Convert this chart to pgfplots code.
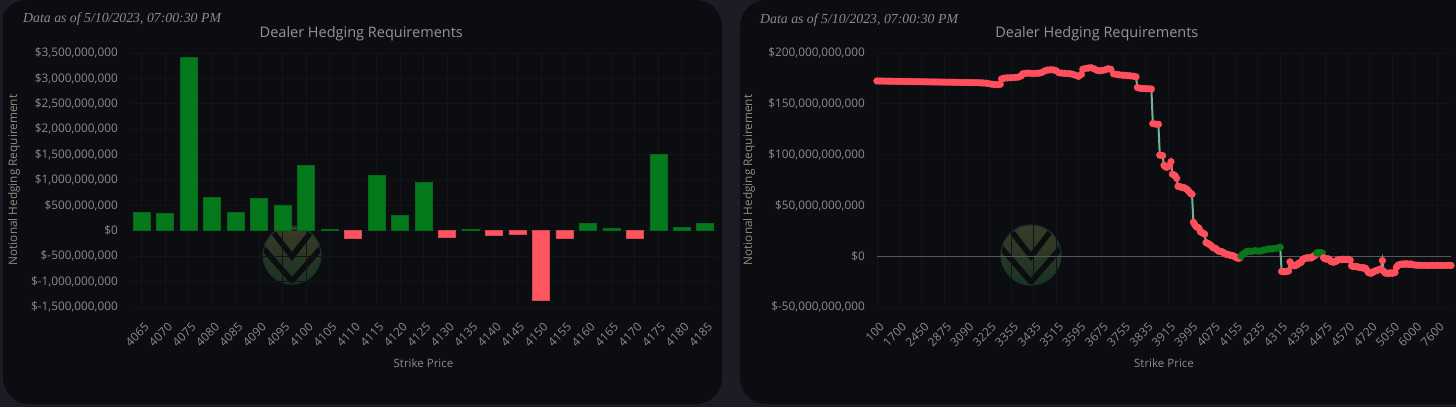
\documentclass[border=0pt]{standalone}
\usepackage{pgfplots}
\pgfplotsset{compat=1.18}
\usepackage{pgfplotstable}
\usepackage{fontspec}
\setmainfont{Open Sans}
\newfontfamily\datefont{Liberation Serif}
\definecolor{outerbg}{HTML}{1B1C25}
\definecolor{panelbg}{HTML}{0C0D10}
\definecolor{gridc}{HTML}{131418}
\definecolor{txt}{HTML}{8C8C8C}
\definecolor{ttl}{HTML}{959595}
\definecolor{barg}{HTML}{057A1C}
\definecolor{barr}{HTML}{FF5561}
\definecolor{ptred}{HTML}{FF4F5C}
\definecolor{ptgreen}{HTML}{0A761A}
\definecolor{lineg}{HTML}{6DB595}
\definecolor{zeroc}{HTML}{55575C}
\definecolor{logotop}{HTML}{3A3B26}
\definecolor{logobot}{HTML}{1A3323}
\definecolor{logoring}{HTML}{15342A}

\pgfplotstableread{
idx val
0 0.37
1 0.35
2 3.42
3 0.65
4 0.36
5 0.63
6 0.51
7 1.29
8 0.02
10 1.09
11 0.31
12 0.95
14 0.025
19 0.14
20 0.05
22 1.50
23 0.07
24 0.14
}\posbars
\pgfplotstableread{
idx val
9 -0.14
13 -0.12
15 -0.08
16 -0.06
17 -1.36
18 -0.15
21 -0.15
}\negbars

\pgfplotstableread{
idx val c
0 172.5 r
2 172.4 r
4 172.4 r
6 172.3 r
8 172.3 r
10 172.2 r
12 172.2 r
14 172.1 r
16 172.1 r
18 172.0 r
20 172.0 r
22 172.0 r
24 171.9 r
26 171.8 r
28 171.8 r
30 171.8 r
32 171.7 r
34 171.7 r
36 171.6 r
38 171.5 r
40 171.5 r
42 171.5 r
44 171.4 r
46 171.4 r
48 171.3 r
50 171.3 r
52 171.3 r
54 171.2 r
56 171.1 r
58 171.1 r
60 171.0 r
62 171.0 r
64 171.0 r
66 170.9 r
68 170.8 r
70 170.8 r
72 170.8 r
74 170.6 r
76 170.5 r
78 170.3 r
80 169.8 r
82 169.3 r
84 169.0 r
86 168.8 r
88 169.2 r
89 174.5 r
91 175.3 r
93 175.5 r
95 175.6 r
97 175.8 r
99 176.0 r
101 176.3 r
103 177.5 r
104 179.5 r
106 180.0 r
108 180.2 r
110 180.0 r
112 179.8 r
114 180.0 r
116 180.2 r
118 181.0 r
120 182.5 r
122 183.2 r
124 183.5 r
126 183.3 r
128 182.5 r
130 180.5 r
132 180.2 r
134 180.0 r
136 179.8 r
138 179.5 r
140 179.0 r
142 178.0 r
144 177.0 r
146 179.0 r
147 184.0 r
149 184.8 r
151 185.2 r
153 185.5 r
155 184.5 r
157 183.0 r
159 182.5 r
161 182.8 r
163 183.5 r
165 184.5 r
167 184.0 r
169 179.5 r
171 179.0 r
173 178.5 r
175 178.2 r
177 178.0 r
179 177.8 r
181 177.5 r
183 177.2 r
185 176.5 r
186 166.0 r
188 165.2 r
190 165.0 r
192 164.8 r
194 164.8 r
196 164.5 r
197 130.5 r
199 130.0 r
201 129.8 r
202 99.5 r
204 99.0 r
205 89.5 r
206 88.0 r
207 87.5 r
208 88.5 r
209 89.0 r
210 93.0 r
211 80.7 r
212 80.0 r
213 79.0 r
214 76.7 r
215 68.8 r
216 68.5 r
217 68.0 r
218 67.8 r
219 67.5 r
220 67.0 r
221 66.0 r
222 65.0 r
223 63.5 r
224 61.7 r
225 61.0 r
226 33.4 r
227 31.0 r
228 29.0 r
229 28.5 r
230 27.5 r
231 24.0 r
232 23.4 r
233 22.5 r
234 21.7 r
235 13.4 r
236 12.8 r
237 12.0 r
238 11.0 r
239 10.0 r
240 8.4 r
241 8.0 r
242 7.5 r
243 6.0 r
244 5.0 r
245 4.8 r
246 4.5 r
247 4.0 r
248 3.0 r
249 2.2 r
250 1.8 r
251 1.5 r
252 1.2 r
253 0.8 r
254 0.5 r
255 0.0 r
256 -1.0 r
257 -1.6 r
258 -2.0 r
259 -1.8 r
260 0.0 g
261 1.5 g
262 2.5 g
263 3.4 g
264 4.5 g
265 4.8 g
266 5.0 g
268 4.8 g
270 5.5 g
272 5.0 g
274 5.2 g
276 6.0 g
278 6.5 g
280 7.2 g
282 7.0 g
284 7.7 g
286 8.0 g
288 8.8 g
289 -15.0 r
290 -15.2 r
291 -15.3 r
292 -15.0 r
293 -14.8 r
294 -14.5 r
295 -5.6 r
296 -8.0 r
297 -9.0 r
298 -9.5 r
299 -9.0 r
300 -8.5 r
301 -7.0 r
302 -6.7 r
303 -6.0 r
304 -3.4 r
305 -2.5 r
306 -2.0 r
307 -1.7 r
308 -1.7 r
309 -1.5 r
310 -1.7 r
311 -1.0 r
312 0.5 r
313 0.7 r
314 3.2 g
315 3.5 g
316 3.6 g
317 3.5 g
318 3.2 g
319 -1.5 r
320 -2.6 r
321 -2.8 r
322 -2.6 r
323 -3.0 r
324 -5.0 r
325 -5.6 r
326 -5.8 r
327 -5.6 r
328 -5.0 r
329 -3.8 r
330 -3.4 r
331 -3.2 r
332 -3.4 r
333 -3.0 r
334 -3.2 r
335 -3.4 r
336 -3.0 r
337 -3.3 r
338 -4.0 r
339 -9.5 r
340 -10.0 r
341 -10.2 r
342 -10.0 r
343 -10.4 r
344 -10.8 r
345 -11.0 r
346 -11.3 r
347 -11.5 r
348 -11.5 r
349 -12.0 r
350 -14.0 r
351 -16.0 r
352 -16.5 r
353 -16.7 r
354 -16.0 r
355 -15.0 r
356 -14.5 r
357 -14.0 r
358 -13.5 r
359 -13.0 r
360 -12.5 r
361 -4.3 r
362 -15.0 r
363 -16.5 r
364 -16.7 r
365 -16.8 r
366 -16.7 r
367 -16.5 r
368 -16.7 r
369 -16.5 r
370 -16.0 r
371 -11.0 r
372 -9.0 r
373 -8.4 r
374 -8.0 r
375 -7.8 r
376 -8.0 r
377 -7.6 r
378 -7.5 r
379 -7.8 r
380 -8.0 r
381 -7.6 r
382 -8.0 r
383 -8.5 r
385 -8.8 r
387 -9.0 r
389 -9.0 r
391 -9.0 r
393 -9.2 r
395 -9.0 r
397 -9.0 r
399 -9.1 r
401 -9.0 r
403 -9.0 r
405 -9.2 r
407 -9.0 r
409 -9.0 r
410 -9.1 r
}\rightdata

\pgfplotsset{
  dark/.style={
    scale only axis, anchor=south west,
    axis line style={draw=none}, tick style={draw=none},
    grid=major, grid style={gridc, line width=0.8pt},
    ticklabel style={text=txt},
    yticklabel style={font=\fontsize{11.8}{12}\selectfont, anchor=east, inner sep=0pt, xshift=-12pt},
    xticklabel style={font=\fontsize{11.8}{12}\selectfont, xshift=5pt, yshift=-18pt, rotate=45, anchor=east, inner sep=0pt},
    every axis title shift=0pt,
    title style={font=\fontsize{14.5}{15}\selectfont, text=ttl, anchor=center},
    xlabel style={font=\fontsize{11.5}{12}\selectfont, text=txt, at={(axis description cs:0.5,-0.2205)}, anchor=center},
    ylabel style={font=\fontsize{11.8}{12}\selectfont, text=txt, anchor=center},
    xlabel={Strike Price}, ylabel={Notional Hedging Requirement},
    title={Dealer Hedging Requirements},
  }
}

\newcommand{\logo}[3]{%
  \begin{scope}[shift={(#1pt,#2pt)}, x=#3pt, y=#3pt]
    \begin{scope}
      \clip (0,0) circle (1);
      \shade[top color=logotop, bottom color=logobot] (-1,-1) rectangle (1,1);
      \draw[panelbg, line width=5.5pt, line join=miter] (-0.7,0.85) -- (0,-0.05) -- (0.7,0.85);
      \draw[panelbg, line width=5.5pt, line join=miter] (-1.05,0.3) -- (0,-0.9) -- (1.05,0.3);
    \end{scope}
    \draw[logoring, line width=1.2pt] (0,0) circle (1);
  \end{scope}}

\begin{document}
\begin{tikzpicture}
\useasboundingbox (0,0) rectangle (1456pt,407pt);
\fill[outerbg] (0,0) rectangle (1456pt,407pt);
\fill[panelbg, rounded corners=26pt] (3pt,3pt) rectangle (722pt,440pt);
\fill[panelbg, rounded corners=26pt] (740pt,3pt) rectangle (1500pt,440pt);
\fill[panelbg] (3pt,400pt) rectangle (722pt,407pt);
\fill[panelbg] (740pt,400pt) rectangle (1456pt,407pt);
\fill[outerbg] (0pt,407pt) -- (0pt,381pt) arc[start angle=180, end angle=90, radius=26pt] -- cycle;
\fill[outerbg] (722pt,407pt) -- (722pt,381pt) arc[start angle=0, end angle=90, radius=26pt] -- cycle;
\fill[outerbg] (740pt,407pt) -- (740pt,381pt) arc[start angle=180, end angle=90, radius=26pt] -- cycle;

\logo{292}{152}{29}
\logo{1031}{152}{30}

\node[anchor=west, text=txt, inner sep=0pt] at (23pt,387.5pt) {\datefont\itshape\fontsize{13.8}{14}\selectfont Data as of 5/10/2023, 07:00:30 PM};
\node[anchor=west, text=txt, inner sep=0pt] at (760pt,387pt) {\datefont\itshape\fontsize{13.8}{14}\selectfont Data as of 5/10/2023, 07:00:30 PM};

\begin{axis}[dark,
  at={(130pt,100pt)}, width=587pt, height=254pt,
  xmin=-0.5, xmax=24.5, ymin=-1.5, ymax=3.5,
  xtick={0,...,24},
  xticklabels={4065,4070,4075,4080,4085,4090,4095,4100,4105,4110,4115,4120,4125,4130,4135,4140,4145,4150,4155,4160,4165,4170,4175,4180,4185},
  ytick={-1.5,-1,-0.5,0,0.5,1,1.5,2,2.5,3,3.5},
  yticklabels={{\$-1,500,000,000},{\$-1,000,000,000},{\$-500,000,000},{\$0},{\$500,000,000},{\$1,000,000,000},{\$1,500,000,000},{\$2,000,000,000},{\$2,500,000,000},{\$3,000,000,000},{\$3,500,000,000}},
  title style={at={(axis description cs:0.394,1.0748)}},
  ylabel style={at={(axis description cs:-0.1976,0.5)}},
]
\addplot[ybar, bar shift=0pt, bar width=17pt, fill=barg, draw=barg!85!black, line width=0.6pt] table[x=idx,y=val] {\posbars};
\addplot[ybar, bar shift=0pt, bar width=17pt, fill=barr, draw=barr!85!black, line width=0.6pt] table[x=idx,y=val] {\negbars};
\end{axis}

\begin{axis}[dark,
  at={(877pt,100pt)}, width=574pt, height=254pt,
  xmin=0, xmax=410, ymin=-50, ymax=200,
  xtick={0,16,...,400},
  xticklabels={100,1700,2450,2875,3090,3225,3355,3435,3515,3595,3675,3755,3835,3915,3995,4075,4155,4235,4315,4395,4475,4570,4720,5050,6000,7600},
  ytick={-50,0,50,100,150,200},
  yticklabels={{\$-50,000,000,000},{\$0},{\$50,000,000,000},{\$100,000,000,000},{\$150,000,000,000},{\$200,000,000,000}},
  extra y ticks={0}, extra y tick labels={},
  extra y tick style={grid style={zeroc, line width=1.1pt}},
  title style={at={(axis description cs:0.383,1.0748)}},
  ylabel style={at={(axis description cs:-0.223,0.5)}},
]
\addplot[lineg, line width=2pt, no marks] table[x=idx,y=val] {\rightdata};
\addplot[scatter, only marks, mark=*, scatter src=explicit symbolic,
  scatter/classes={r={mark=*, mark size=3.4pt, ptred, fill=ptred, draw=ptred}, g={mark=*, mark size=3.4pt, ptgreen, fill=ptgreen, draw=ptgreen}}]
  table[x=idx,y=val,meta=c] {\rightdata};
\end{axis}
\end{tikzpicture}
\end{document}
